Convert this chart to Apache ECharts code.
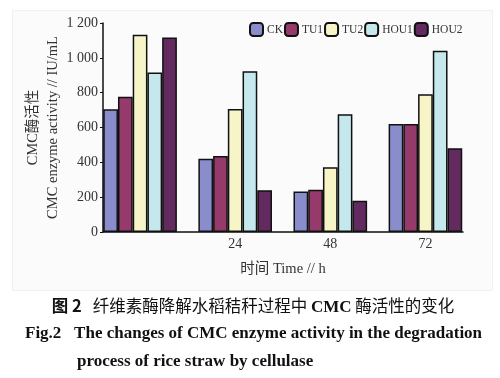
<!DOCTYPE html>
<html><head><meta charset="utf-8">
<script src="https://cdn.jsdelivr.net/npm/echarts@6/dist/echarts.min.js"></script>
<style>html,body{margin:0;padding:0;background:#fff}#c{width:500px;height:378px}</style>
</head><body><div id="c"></div>
<script>
const categories = ['', '24', '48', '72'];
const seriesNames = ['CK', 'TU1', 'TU2', 'HOU1', 'HOU2'];
const CK   = [705, 420, 233, 620];
const TU1  = [777, 437, 242, 620];
const TU2  = [1133, 706, 372, 791];
const HOU1 = [916, 923, 676, 1040];
const HOU2 = [1117, 240, 179, 481];
const yTicks = [0, 200, 400, 600, 800, 1000, 1200];
const colors = ['#8a8dcc', '#953a6a', '#f7f5c7', '#c5e8ed', '#632a60'];
const values = [CK, TU1, TU2, HOU1, HOU2];

const serif = '"Liberation Serif", "Noto Sans CJK SC", serif';
const chart = echarts.init(document.getElementById('c'), null, {renderer: 'canvas'});
chart.setOption({
  animation: false,
  backgroundColor: '#fff',
  graphic: [{type: 'rect', left: 12, top: 10, shape: {width: 480, height: 280}, style: {fill: '#fbfbfb', stroke: '#f0f0f0'}, z: -10}],
  textStyle: {fontFamily: serif},
  legend: {
    data: seriesNames, left: 249, top: 22, padding: 0, itemWidth: 13, itemHeight: 13, itemGap: 1,
    textStyle: {fontFamily: serif, fontSize: 11.5, color: '#333', padding: [0, 0, 0, -1]}
  },
  grid: [
    {left: 103, right: 37, top: 23, bottom: 146},
    {left: 92.5, right: 27, top: 23, bottom: 146}
  ],
  xAxis: [
    {type: 'category', gridIndex: 0, data: categories, axisLine: {lineStyle: {color: '#111', width: 1.5}}, axisTick: {show: false}, axisLabel: {show: false},
     name: '时间 Time // h', nameLocation: 'middle', nameGap: 30, nameMoveOverlap: false, nameTextStyle: {fontFamily: serif, fontSize: 14.5, color: '#333'}},
    {type: 'category', gridIndex: 1, data: categories, axisLine: {show: false}, axisTick: {show: false},
     axisLabel: {fontFamily: serif, fontSize: 14, color: '#333', margin: 5}}
  ],
  yAxis: [
    {type: 'value', gridIndex: 0, min: 0, max: 1200, interval: 200,
     axisLine: {show: true, lineStyle: {color: '#111', width: 1.5}},
     axisTick: {show: true, length: 3, lineStyle: {color: '#111'}},
     splitLine: {show: false},
     axisLabel: {fontFamily: serif, fontSize: 14, color: '#333', margin: 5,
       formatter: v => yTicks.includes(v) ? (v >= 1000 ? Math.floor(v/1000) + ' ' + String(v%1000).padStart(3,'0') : String(v)) : ''},
     name: 'CMC酶活性\nCMC enzyme activity // IU/mL', nameLocation: 'middle', nameGap: 40, nameMoveOverlap: false,
     nameTextStyle: {fontFamily: serif, fontSize: 14.5, color: '#333', lineHeight: 20}},
    {type: 'value', gridIndex: 1, min: 0, max: 1200, interval: 200, show: false, splitLine: {show: false}}
  ],
  series: seriesNames.map((n, i) => ({
    name: n, type: 'bar', xAxisIndex: 1, yAxisIndex: 1, data: values[i],
    barGap: '0%', barCategoryGap: '22.6%',
    itemStyle: {color: colors[i], borderColor: '#111', borderWidth: 1.5}
  }))
});
</script>
<div style="position:absolute;left:0;top:294px;width:506px;text-align:center;font-family:'Noto Sans CJK SC';font-size:16.5px;color:#111;line-height:22px;">
<span style="font-weight:bold">图 2</span>&nbsp;&nbsp;&nbsp;纤维素酶降解水稻秸秆过程中 <span style="font-family:'Liberation Serif';font-weight:bold;font-size:17px">CMC</span> 酶活性的变化</div>
<div style="position:absolute;left:25px;top:319px;font-family:'Liberation Serif';font-weight:bold;font-size:17px;color:#111;line-height:28px;white-space:nowrap;">
Fig.2&nbsp;&nbsp;&nbsp;The changes of CMC enzyme activity in the degradation<br>
<span style="padding-left:52px">process of rice straw by cellulase</span></div>
</body></html>
